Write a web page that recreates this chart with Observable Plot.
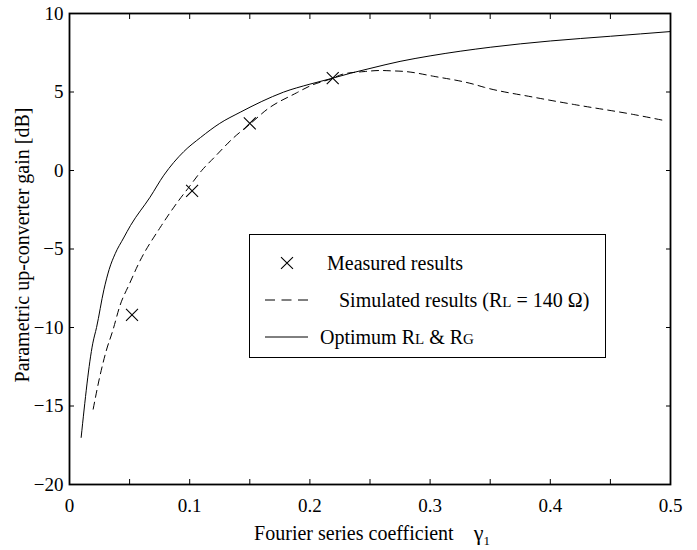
<!DOCTYPE html>
<html>
<head>
<meta charset="utf-8">
<script src="https://cdn.jsdelivr.net/npm/d3@7"></script>
<script src="https://cdn.jsdelivr.net/npm/@observablehq/plot@0.6"></script>
<style>
  html, body { margin: 0; padding: 0; background: #fff; }
  #chart { width: 697px; height: 550px; }
  #chart svg text { font-family: "Liberation Serif", "Times New Roman", serif; }
</style>
</head>
<body>
<div id="chart"></div>
<script>
// ---- Data ----
const optimumX = [0.0097, 0.0194, 0.0225, 0.0286, 0.033, 0.038, 0.045, 0.0508, 0.067, 0.0785, 0.095, 0.109, 0.125, 0.142, 0.16, 0.178, 0.2, 0.217, 0.234, 0.25, 0.275, 0.3, 0.35, 0.4, 0.45, 0.5];
const optimumY = [-17.0, -11.0, -10.0, -7.6, -6.3, -5.3, -4.3, -3.5, -1.7, -0.3, 1.2, 2.1, 3.0, 3.71, 4.4, 4.99, 5.5, 5.84, 6.2, 6.5, 6.95, 7.3, 7.85, 8.25, 8.55, 8.85];

const simX = [0.0197, 0.025, 0.0305, 0.036, 0.042, 0.05, 0.0577, 0.0757, 0.09, 0.1, 0.11, 0.12, 0.1367, 0.15, 0.1645, 0.189, 0.2005, 0.218, 0.228, 0.245, 0.2587, 0.267, 0.28, 0.303, 0.336, 0.345, 0.386, 0.42, 0.469, 0.495];
const simY = [-15.2, -13.2, -11.5, -10.2, -8.6, -7.2, -5.9, -3.6, -2.0, -1.0, 0.0, 0.8, 2.1, 2.95, 3.9, 4.95, 5.4, 5.85, 6.15, 6.3, 6.37, 6.35, 6.3, 6.0, 5.5, 5.3, 4.67, 4.2, 3.57, 3.18];

const measuredX = [0.052, 0.102, 0.15, 0.219];
const measuredY = [-9.2, -1.3, 3.0, 5.88];

const xTicks = [0, 0.05, 0.1, 0.15, 0.2, 0.25, 0.3, 0.35, 0.4, 0.45, 0.5];
const xLabelTicks = [0, 0.1, 0.2, 0.3, 0.4, 0.5];
const xTickLabels = ["0", "0.1", "0.2", "0.3", "0.4", "0.5"];
const yTicks = [-20, -15, -10, -5, 0, 5, 10];
const yTickLabels = ["\u221220", "\u221215", "\u221210", "\u22125", "0", "5", "10"];

const xTitle = "Fourier series coefficient";
const yTitle = "Parametric up-converter gain [dB]";
const legendItems = ["Measured results", "Simulated results", "Optimum"];

// ---- Build tables ----
const optimum = optimumX.map((x, i) => ({x, y: optimumY[i]}));
const simulated = simX.map((x, i) => ({x, y: simY[i]}));
const measured = measuredX.map((x, i) => ({x, y: measuredY[i]}));

const FONT = "Liberation Serif";

const chart = Plot.plot({
  width: 697,
  height: 550,
  marginLeft: 69,
  marginRight: 27,
  marginTop: 13,
  marginBottom: 66,
  style: {fontFamily: FONT, fontSize: "19px", color: "black", background: "white"},
  x: {domain: [0, 0.5]},
  y: {domain: [-20, 10]},
  marks: [
    Plot.axisX(xTicks, {anchor: "bottom", tickSize: -5, tickFormat: () => "", label: null}),
    Plot.axisX(xTicks, {anchor: "top", tickSize: -5, tickFormat: () => "", label: null}),
    Plot.axisX(xLabelTicks, {anchor: "bottom", tickSize: 0, tickPadding: 14, tickFormat: d => xTickLabels[xLabelTicks.indexOf(d)], label: null, fontSize: 19, fontFamily: FONT}),
    Plot.axisY(yTicks, {anchor: "left", tickSize: -5, tickFormat: () => "", label: null}),
    Plot.axisY(yTicks, {anchor: "right", tickSize: -5, tickFormat: () => "", label: null}),
    Plot.axisY(yTicks, {anchor: "left", tickSize: 0, tickPadding: 6, tickFormat: d => yTickLabels[yTicks.indexOf(d)], label: null, fontSize: 19, fontFamily: FONT}),
    Plot.line(optimum, {x: "x", y: "y", stroke: "black", strokeWidth: 1, curve: "monotone-x"}),
    Plot.line(simulated, {x: "x", y: "y", stroke: "black", strokeWidth: 1, strokeDasharray: "7,5", curve: "monotone-x"}),
    Plot.dot(measured, {x: "x", y: "y", symbol: "times", r: 5.5, stroke: "black", strokeWidth: 1.1}),
    Plot.frame({stroke: "black", strokeWidth: 1.8})
  ]
});

document.getElementById("chart").appendChild(chart);

// ---- Titles and legend (layout only) ----
const svg = d3.select(chart);

// x title with subscripted gamma
const xt = svg.append("text")
  .attr("x", 372).attr("y", 540)
  .attr("text-anchor", "middle")
  .attr("font-family", FONT).attr("font-size", 20).attr("fill", "black");
xt.append("tspan").text(xTitle + "\u2002\u2002");
xt.append("tspan").attr("font-size", 22).text("\u03b3");
xt.append("tspan").attr("font-size", 13).attr("dy", 5).text("1");

// y title
svg.append("text")
  .attr("transform", "translate(29,245) rotate(-90)")
  .attr("text-anchor", "middle")
  .attr("font-family", FONT).attr("font-size", 20).attr("fill", "black")
  .text(yTitle);

// legend box
const lg = svg.append("g").attr("text-anchor", "start");
lg.append("rect")
  .attr("x", 249.5).attr("y", 234.5).attr("width", 356).attr("height", 123)
  .attr("fill", "white").attr("stroke", "black").attr("stroke-width", 1);

// measured
lg.append("path")
  .attr("transform", "translate(287,263)")
  .attr("d", d3.symbol(d3.symbolTimes, 5.5 * 5.5 * Math.PI)())
  .attr("fill", "none").attr("stroke", "black").attr("stroke-width", 1.1);
lg.append("text").attr("x", 327).attr("y", 270)
  .attr("text-anchor", "start")
  .attr("font-family", FONT).attr("font-size", 20).attr("fill", "black")
  .text(legendItems[0]);

// simulated
lg.append("line").attr("x1", 265).attr("x2", 308).attr("y1", 300).attr("y2", 300)
  .attr("stroke", "black").attr("stroke-width", 1).attr("stroke-dasharray", "10,6.5");
const t2 = lg.append("text").attr("x", 339).attr("y", 307)
  .attr("text-anchor", "start")
  .attr("font-family", FONT).attr("font-size", 20).attr("fill", "black");
t2.append("tspan").text(legendItems[1] + " (R");
t2.append("tspan").attr("font-size", 15).text("L");
t2.append("tspan").text(" = 140 \u03a9)");

// optimum
lg.append("line").attr("x1", 265).attr("x2", 308).attr("y1", 337).attr("y2", 337)
  .attr("stroke", "black").attr("stroke-width", 1);
const t3 = lg.append("text").attr("x", 320).attr("y", 344)
  .attr("text-anchor", "start")
  .attr("font-family", FONT).attr("font-size", 20).attr("fill", "black");
t3.append("tspan").text(legendItems[2] + " R");
t3.append("tspan").attr("font-size", 15).text("L");
t3.append("tspan").text(" & R");
t3.append("tspan").attr("font-size", 15).text("G");
</script>
</body>
</html>
